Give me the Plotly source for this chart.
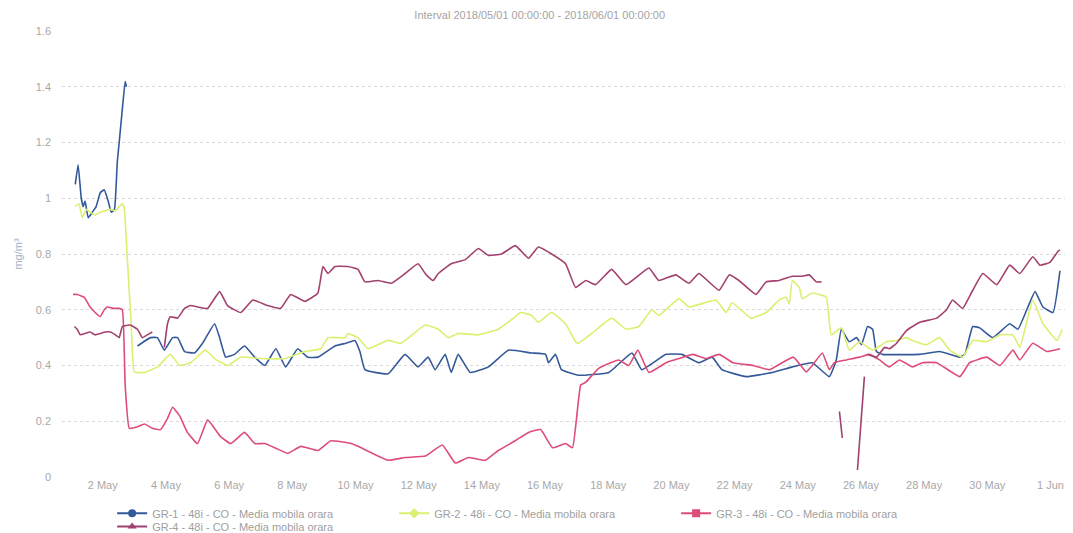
import pandas as pd
import plotly.graph_objects as go

TITLE = "Interval 2018/05/01 00:00:00 - 2018/06/01 00:00:00"
BASE = pd.Timestamp("2018-05-01 00:00:00")

names = [
    "GR-1 - 48i - CO - Media mobila orara",
    "GR-2 - 48i - CO - Media mobila orara",
    "GR-3 - 48i - CO - Media mobila orara",
    "GR-4 - 48i - CO - Media mobila orara",
]
colors = ["#34599a", "#dcef70", "#de4d78", "#a2416f"]
symbols = ["circle", "diamond", "square", "triangle-up"]
legend_ids = ["legend", "legend", "legend", "legend2"]

# day offsets since 2018-05-01 00:00 and values (mg/m3); None = gap
gr1_days = [0.13, 0.22, 0.32, 0.38, 0.44, 0.54, 0.67, 0.79, 0.92, 1.05, 1.17, 1.27, 1.37, 1.46, 1.52, 1.62, 1.71, 1.75,
            1.90,
            2.10, 2.51, 2.73, 2.95, 3.21, 3.37, 3.59, 3.90, 4.16, 4.54, 4.70, 4.89, 5.17, 5.49, 5.81, 6.13, 6.48, 6.79,
            7.17, 7.49, 7.81, 8.35, 8.70, 8.98, 9.14, 9.30, 10.03, 10.57, 10.98, 11.30, 11.52, 11.84, 12.03, 12.25,
            12.63, 13.21, 13.84, 14.57, 15.02, 15.11, 15.33, 15.52, 16.06, 17.02, 17.75, 18.06, 18.83, 19.33, 19.87,
            20.29, 20.60, 21.37, 22.19, 22.83, 23.46, 24.00, 24.22, 24.38, 24.63, 24.86, 25.02, 25.21, 25.37, 25.49,
            25.68, 26.86, 27.49, 28.13, 28.29, 28.54, 28.76, 29.17, 29.71, 29.97, 30.51, 30.76, 31.08, 31.30]
gr1_vals = [1.05, 1.12, 1.00, 0.97, 0.99, 0.93, 0.95, 0.97, 1.02, 1.03, 0.99, 0.95, 0.96, 1.13, 1.20, 1.32, 1.42, 1.40,
            None,
            0.47, 0.50, 0.50, 0.455, 0.50, 0.50, 0.45, 0.445, 0.48, 0.55, 0.50, 0.43, 0.44, 0.47, 0.43, 0.40, 0.46, 0.395,
            0.46, 0.43, 0.43, 0.47, 0.48, 0.49, 0.45, 0.385, 0.37, 0.44, 0.395, 0.43, 0.385, 0.44, 0.375, 0.44,
            0.375, 0.395, 0.455, 0.445, 0.44, 0.41, 0.44, 0.385, 0.365, 0.375, 0.445, 0.385, 0.44, 0.44, 0.41,
            0.43, 0.385, 0.36, 0.375, 0.395, 0.41, 0.36, 0.42, 0.53, 0.485, 0.50, 0.475, 0.54, 0.53, 0.45,
            0.44, 0.44, 0.45, 0.43, 0.44, 0.54, 0.535, 0.50, 0.55, 0.53, 0.665, 0.61, 0.59, 0.74]

gr2_days = [0.13, 0.25, 0.35, 0.48, 0.60, 0.76, 0.92, 1.08, 1.24, 1.40, 1.52, 1.62, 1.68, 1.78, 1.90, 2.00, 2.32,
            2.73, 3.14, 3.43, 3.78, 4.25, 4.54, 4.95, 5.37, 6.00, 6.76, 7.40, 7.90, 8.13, 8.67, 8.76, 9.08, 9.40,
            10.03, 10.44, 11.21, 11.62, 11.94, 12.25, 12.89, 13.52, 14.06, 14.22, 14.57, 14.79, 15.21, 15.65, 15.97,
            16.06, 16.48, 17.11, 17.56, 17.97, 18.38, 18.60, 19.24, 19.56, 20.41, 20.73, 20.92, 21.52, 22.00, 22.41,
            22.63, 22.73, 22.83, 23.05, 23.14, 23.46, 23.90, 24.06, 24.38, 24.63, 24.95, 25.37, 25.81, 26.13, 26.44,
            26.63, 27.08, 27.49, 27.81, 28.22, 28.54, 28.98, 29.40, 29.81, 30.03, 30.44, 30.76, 31.21, 31.37]
gr2_vals = [0.97, 0.98, 0.93, 0.96, 0.95, 0.94, 0.95, 0.955, 0.96, 0.955, 0.97, 0.98, 0.965, 0.78, 0.55, 0.377, 0.375,
            0.395, 0.44, 0.40, 0.41, 0.455, 0.425, 0.40, 0.43, 0.425, 0.425, 0.45, 0.46, 0.50, 0.50, 0.515, 0.50, 0.46,
            0.49, 0.48, 0.545, 0.53, 0.50, 0.515, 0.51, 0.53, 0.575, 0.59, 0.58, 0.555, 0.59, 0.55, 0.485,
            0.48, 0.515, 0.57, 0.53, 0.54, 0.60, 0.58, 0.64, 0.61, 0.635, 0.59, 0.625, 0.57, 0.59, 0.635,
            0.645, 0.62, 0.705, 0.68, 0.64, 0.66, 0.645, 0.51, 0.535, 0.455, 0.485, 0.455, 0.485, 0.49, 0.50,
            0.49, 0.475, 0.50, 0.455, 0.43, 0.49, 0.485, 0.51, 0.51, 0.465, 0.635, 0.55, 0.49, 0.53]

gr3_days = [0.06, 0.19, 0.41, 0.60, 0.76, 0.92, 1.05, 1.14, 1.33, 1.52, 1.62, 1.71, 1.84, 2.10, 2.32, 2.57, 2.83,
            3.05, 3.21, 3.43, 3.68, 4.00, 4.32, 4.73, 5.05, 5.49, 5.81, 6.13, 6.54, 6.86, 7.27, 7.81, 8.22, 8.86,
            9.08, 10.03, 10.57, 11.21, 11.75, 12.16, 12.57, 13.11, 13.52, 14.06, 14.48, 14.86, 15.24, 15.65, 15.87,
            16.13, 16.29, 16.70, 17.33, 17.65, 17.94, 18.29, 18.83, 19.24, 19.68, 20.10, 20.51, 20.95, 21.59, 22.10,
            22.86, 23.27, 23.46, 23.78, 24.00, 24.16, 24.54, 24.95, 25.27, 25.59, 25.90, 26.22, 26.63, 26.95, 27.40,
            28.13, 28.44, 28.98, 29.40, 29.81, 30.03, 30.44, 30.89, 31.30]
gr3_vals = [0.655, 0.655, 0.645, 0.61, 0.59, 0.575, 0.60, 0.61, 0.605, 0.605, 0.60, 0.33, 0.175, 0.18, 0.19, 0.175, 0.17,
            0.21, 0.25, 0.22, 0.16, 0.12, 0.205, 0.145, 0.12, 0.16, 0.12, 0.12, 0.10, 0.085, 0.11, 0.095, 0.13, 0.12,
            0.11, 0.06, 0.07, 0.075, 0.115, 0.05, 0.07, 0.06, 0.095, 0.13, 0.16, 0.17, 0.105, 0.12, 0.105,
            0.33, 0.34, 0.39, 0.42, 0.40, 0.455, 0.375, 0.41, 0.425, 0.44, 0.425, 0.44, 0.41, 0.40, 0.385,
            0.43, 0.377, 0.40, 0.445, 0.385, 0.41, 0.42, 0.43, 0.44, 0.42, 0.395, 0.42, 0.395, 0.41, 0.41,
            0.36, 0.41, 0.43, 0.40, 0.455, 0.42, 0.48, 0.45, 0.46]

gr4_days = [0.10, 0.19, 0.29, 0.44, 0.60, 0.76, 0.92, 1.08, 1.24, 1.40, 1.52, 1.62, 1.87, 2.10, 2.25, 2.41, 2.57,
            2.70,
            2.95, 3.05, 3.14, 3.37, 3.59, 3.78, 4.00, 4.32, 4.70, 4.95, 5.37, 5.75, 6.22, 6.63, 6.95, 7.40, 7.81,
            7.97, 8.13, 8.35, 8.76, 9.08, 9.30, 9.71, 10.13, 10.57, 10.98, 11.24, 11.46, 11.62, 12.03, 12.48, 12.89,
            13.21, 13.62, 14.06, 14.48, 14.79, 15.21, 15.65, 15.97, 16.29, 16.60, 17.11, 17.56, 18.29, 18.60, 19.14,
            19.56, 19.87, 20.51, 20.83, 21.14, 21.68, 22.00, 22.41, 22.83, 23.14, 23.37, 23.59, 23.75,
            23.95,
            24.32, 24.41,
            24.60,
            24.89, 25.11,
            25.16,
            25.21, 25.49, 25.75, 25.90, 26.13, 26.44, 26.86, 27.40, 27.71, 27.90, 28.22, 28.54, 28.86, 29.30, 29.71,
            30.03, 30.44, 30.67, 30.98, 31.24, 31.30]
gr4_vals = [0.54, 0.53, 0.51, 0.515, 0.52, 0.51, 0.515, 0.52, 0.52, 0.51, 0.50, 0.54, 0.545, 0.53, 0.50, 0.51, 0.52,
            None,
            0.465, 0.55, 0.575, 0.57, 0.605, 0.615, 0.61, 0.605, 0.665, 0.615, 0.59, 0.635, 0.615, 0.605, 0.655, 0.63, 0.66,
            0.755, 0.73, 0.755, 0.755, 0.745, 0.70, 0.705, 0.695, 0.73, 0.765, 0.725, 0.705, 0.73, 0.765, 0.78, 0.82,
            0.795, 0.80, 0.83, 0.785, 0.825, 0.80, 0.765, 0.68, 0.705, 0.69, 0.745, 0.69, 0.75, 0.705, 0.725,
            0.695, 0.73, 0.67, 0.725, 0.705, 0.655, 0.70, 0.705, 0.72, 0.72, 0.725, 0.70, 0.70,
            None,
            0.235, 0.14,
            None,
            0.025, 0.36,
            None,
            0.44, 0.43, 0.465, 0.46, 0.48, 0.525, 0.555, 0.57, 0.60, 0.635, 0.605, 0.67, 0.73, 0.69, 0.76,
            0.73, 0.79, 0.76, 0.77, 0.81, 0.815]

series_days = [gr1_days, gr2_days, gr3_days, gr4_days]
series_vals = [gr1_vals, gr2_vals, gr3_vals, gr4_vals]

tick_days = list(range(1, 32, 2))
tick_labels = ["2 May", "4 May", "6 May", "8 May", "10 May", "12 May", "14 May", "16 May", "18 May",
               "20 May", "22 May", "24 May", "26 May", "28 May", "30 May", "1 Jun"]
y_ticks = [0, 0.2, 0.4, 0.6, 0.8, 1, 1.2, 1.4, 1.6]
y_tick_labels = ["0", "0.2", "0.4", "0.6", "0.8", "1", "1.2", "1.4", "1.6"]


def to_time(days):
    return [BASE + pd.to_timedelta(d, unit="D") for d in days]


fig = go.Figure()
for name, col, d, v in zip(names, colors, series_days, series_vals):
    fig.add_trace(go.Scatter(x=to_time(d), y=v, mode="lines", name=name,
                             line=dict(color=col, width=1.6, shape="spline", smoothing=0.35),
                             connectgaps=False, showlegend=False, hoverinfo="skip"))
# legend entries (line + marker symbol)
for name, col, sym, lg in zip(names, colors, symbols, legend_ids):
    fig.add_trace(go.Scatter(x=[None], y=[None], mode="lines+markers", name=name,
                             line=dict(color=col, width=2), legend=lg,
                             marker=dict(color=col, symbol=sym, size=8)))

FONT = "Liberation Sans, Arial, sans-serif"
legend_style = dict(orientation="h", xanchor="left", yanchor="top",
                    font=dict(size=11, color="#a0a0a0", family=FONT),
                    entrywidth=237, entrywidthmode="pixels", itemwidth=30,
                    tracegroupgap=0, bgcolor="rgba(0,0,0,0)")
fig.update_layout(
    width=1073, height=533,
    margin=dict(l=62, r=8, t=31, b=56, autoexpand=False),
    paper_bgcolor="white", plot_bgcolor="white",
    font=dict(family=FONT, size=11, color="#a8a8a8"),
    title=dict(text=TITLE, x=0.503, xref="container", xanchor="center",
               y=0.972, yref="container", yanchor="middle",
               font=dict(size=11, color="#a4a4a4", family=FONT)),
    legend=dict(x=0.05, y=-0.049, **legend_style),
    legend2=dict(x=0.05, y=-0.0785, **legend_style),
    xaxis=dict(type="date",
               range=[BASE + pd.to_timedelta(-0.29, unit="D"), BASE + pd.to_timedelta(31.46, unit="D")],
               tickvals=to_time(tick_days), ticktext=tick_labels,
               showgrid=False, zeroline=False, showline=False, ticks="",
               tickfont=dict(size=11, color="#a8a8a8")),
    yaxis=dict(range=[0, 1.6], tickvals=y_ticks, ticktext=y_tick_labels,
               showgrid=True, gridcolor="#d9d9d9", griddash="dot", gridwidth=1,
               zeroline=False, showline=False, ticks="", ticklabelstandoff=10,
               tickfont=dict(size=11, color="#a8a8a8"),
               title=dict(text="mg/m³", standoff=10, font=dict(size=11, color="#9fb0c8"))),
)

fig.write_html("out.html", config={"displayModeBar": False},
               post_script="document.body.style.margin='0';")
